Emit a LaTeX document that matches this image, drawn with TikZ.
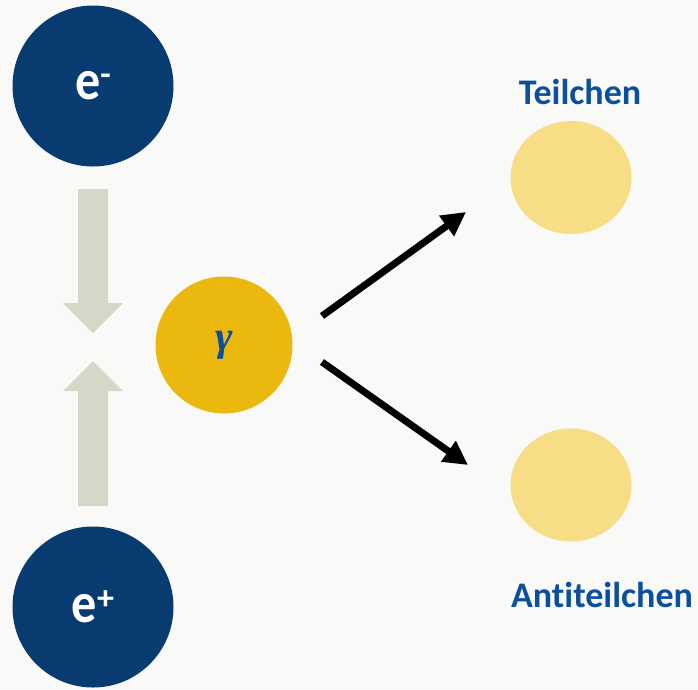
\documentclass[tikz,border=0pt]{standalone}
\usepackage{graphicx}
\usepackage{fontspec}
\setmainfont{Carlito}[Ligatures=NoCommon]
\newfontfamily\gfont{Liberation Serif}
\usetikzlibrary{arrows.meta,shapes.geometric}
\definecolor{bgc}{HTML}{F9F9F7}
\definecolor{navy}{HTML}{083C71}
\definecolor{gold}{HTML}{EAB80F}
\definecolor{pale}{HTML}{F7DD86}
\definecolor{greyarrow}{HTML}{D6D7C8}
\definecolor{lblue}{HTML}{0B4F9E}
\tikzset{
  electron/.style={circle, fill=navy, minimum size=161pt, inner sep=0pt, text=white, font=\bfseries\fontsize{57}{57}\selectfont},
  photon/.style={circle, fill=gold, minimum size=137pt, inner sep=0pt, text=lblue, font=\gfont\bfseries\itshape\fontsize{42}{42}\selectfont},
  product/.style={ellipse, fill=pale, minimum width=121pt, minimum height=113pt, inner sep=0pt},
  lbl/.style={text=lblue, font=\bfseries\fontsize{36}{36}\selectfont, inner sep=0pt},
  bigarrow/.style={fill=greyarrow, draw=none},
  decay/.style={line width=7pt, -{Triangle[length=24pt,width=24pt]}}
}
\begin{document}
\begin{tikzpicture}[x=1pt,y=-1pt]
\fill[bgc] (0,0) rectangle (698,689);
\useasboundingbox (0,0) rectangle (698,689);
% electrons
\node[electron] (em) at (93,86) {\scalebox{0.88}[1]{e}\raisebox{0.52ex}{\fontsize{34}{34}\selectfont -}};
\node[electron] (ep) at (93,607) {\scalebox{0.88}[1]{e}\raisebox{0.45ex}{\fontsize{34}{34}\selectfont +}};
% grey arrows
\fill[bigarrow] (78,189) -- (108,189) -- (108,303) -- (123,303) -- (93,333) -- (63,303) -- (78,303) -- cycle;
\fill[bigarrow] (78,506) -- (108,506) -- (108,391) -- (123,391) -- (93,361) -- (63,391) -- (78,391) -- cycle;
% photon
\node[photon] (g) at (224,345) {γ};
% products
\node[product] (t) at (571,177.5) {};
\node[product] (a) at (571,485) {};
\node[lbl, anchor=base] (tl) at (580,104) {Teilchen};
\node[lbl, anchor=base] (al) at (602,607.5) {Antiteilchen};
% decay arrows
\coordinate (s1) at (322,316);
\coordinate (e1) at (466,212);
\coordinate (s2) at (322,362);
\coordinate (e2) at (468,465);
\draw[decay] (s1) -- (e1);
\draw[decay] (s2) -- (e2);
\end{tikzpicture}
\end{document}
